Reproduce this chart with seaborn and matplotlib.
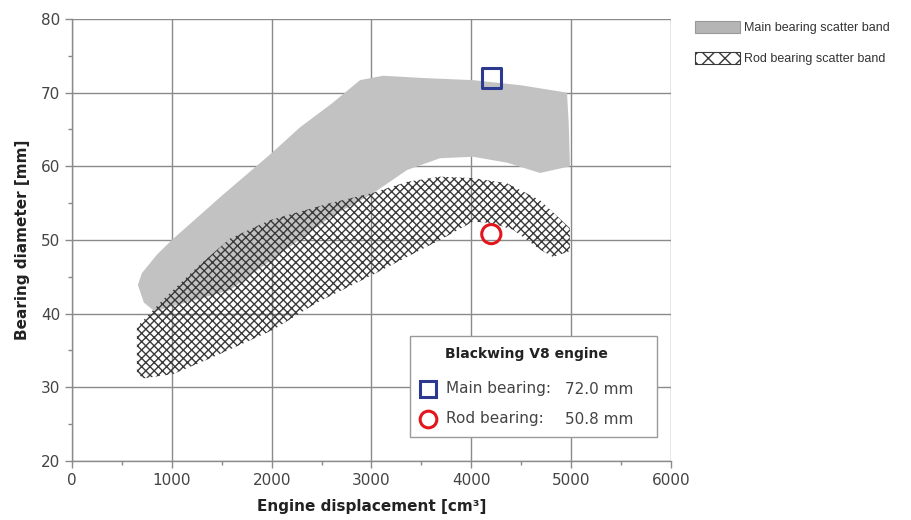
import matplotlib
matplotlib.use("Agg")
import matplotlib.pyplot as plt
from matplotlib.patches import Patch, Rectangle
from matplotlib.ticker import MultipleLocator
import seaborn as sns
import pandas as pd

# Main bearing scatter band outline (displacement cm3, diameter mm)
main_x = [660, 700, 850, 1000, 1500, 2000, 2284, 2600, 2885, 3115, 3500, 4017, 4500, 4958, 4975, 4988,
          4688, 4357, 4017, 3686, 3356, 3000, 2600, 2184, 1583, 982, 830, 720]
main_y = [43.9, 45.5, 48.0, 50.0, 56.0, 61.8, 65.3, 68.5, 71.7, 72.3, 72.0, 71.7, 71.0, 70.0, 66.0, 60.0,
          59.1, 60.5, 61.3, 61.1, 59.5, 56.2, 53.2, 49.1, 43.2, 40.9, 40.3, 41.5]

# Rod bearing scatter band outline
rod_x = [650, 912, 1252, 1583, 1983, 2584, 3015, 3356, 3686, 4017, 4357, 4688, 4988,
         4988, 4818, 4688, 4418, 4200, 4017, 3686, 3356, 3015, 2454, 2014, 1412, 1012, 711, 650]
rod_y = [38.2, 41.9, 46.3, 50.2, 52.7, 55.0, 56.4, 57.9, 58.6, 58.4, 57.7, 55.4, 51.6,
         48.5, 47.7, 48.7, 51.4, 52.3, 52.5, 50.0, 47.7, 45.3, 41.5, 37.8, 34.1, 31.8, 31.2, 32.0]

# Blackwing V8 engine
engine_disp = [4200, 4200]
engine_diam = [72.0, 50.8]
engine_part = ["Main bearing", "Rod bearing"]
engine_name = ["Main bearing:", "Rod bearing:"]
engine_value = ["72.0 mm", "50.8 mm"]

x_ticks = [0, 1000, 2000, 3000, 4000, 5000, 6000]
y_ticks = [20, 30, 40, 50, 60, 70, 80]

sns.set_theme(style="white")
plt.rcParams['font.family'] = ['DejaVu Sans']
plt.rcParams['hatch.color'] = '#3a3a3a'
plt.rcParams['hatch.linewidth'] = 1.0

fig = plt.figure(figsize=(9.11, 5.20), dpi=100)
ax = fig.add_axes([72/911, 1 - 461/520, (671 - 72)/911, (461 - 19)/520])

ax.fill(main_x, main_y, facecolor="#c2c2c2", edgecolor="none", zorder=1)
ax.fill(rod_x, rod_y, facecolor="none", edgecolor="#3a3a3a", linewidth=0, hatch="xxxx", zorder=2)

df = pd.DataFrame({"disp": engine_disp, "diam": engine_diam, "part": engine_part})
sns.scatterplot(data=df[df.part == "Main bearing"], x="disp", y="diam", marker="s", s=190,
                facecolor="none", edgecolor="#2b3990", linewidth=2.2, ax=ax, zorder=5, legend=False)
sns.scatterplot(data=df[df.part == "Rod bearing"], x="disp", y="diam", marker="o", s=190,
                facecolor="none", edgecolor="#e3161b", linewidth=2.2, ax=ax, zorder=5, legend=False)

ax.set_xlim(0, 6000)
ax.set_ylim(20, 80)
ax.set_xticks(x_ticks)
ax.set_yticks(y_ticks)
ax.xaxis.set_minor_locator(MultipleLocator(500))
ax.yaxis.set_minor_locator(MultipleLocator(5))
ax.grid(True, which="major", color="#8a8a8a", linewidth=1.0, zorder=0)
ax.set_axisbelow(True)
for side in ["top", "right"]:
    ax.spines[side].set_visible(False)
for side in ["left", "bottom"]:
    ax.spines[side].set_color("#8a8a8a")
    ax.spines[side].set_linewidth(1.0)
ax.tick_params(axis="both", which="major", length=5, width=1, color="#8a8a8a",
               labelsize=11, labelcolor="#444444", bottom=True, left=True)
ax.tick_params(axis="both", which="minor", length=3, width=1, color="#8a8a8a", bottom=True, left=True)

ax.set_xlabel("Engine displacement [cm³]", fontsize=11, fontweight="bold", color="#222222", labelpad=8)
ax.set_ylabel("Bearing diameter [mm]", fontsize=11, fontweight="bold", color="#222222", labelpad=8)

# Inset engine info box (axes coordinates)
def axx(px):
    return (px - 72) / 599.0

def axy(py):
    return (461 - py) / 442.0

box = Rectangle((axx(410), axy(437)), axx(657) - axx(410), axy(336) - axy(437),
                transform=ax.transAxes, facecolor="white", edgecolor="#9a9a9a", linewidth=1.0, zorder=6)
ax.add_patch(box)
ax.text(axx(526), axy(354), "Blackwing V8 engine", transform=ax.transAxes, ha="center", va="center",
        fontsize=10, fontweight="bold", color="#222222", zorder=7)
row_y = [389, 419]
row_marker = ["s", "o"]
row_color = ["#2b3990", "#e3161b"]
for name, val, py, mk, col in zip(engine_name, engine_value, row_y, row_marker, row_color):
    ax.plot([axx(428)], [axy(py)], transform=ax.transAxes, marker=mk, markersize=12,
            markerfacecolor="none", markeredgecolor=col, markeredgewidth=2.2, linestyle="none",
            zorder=7, clip_on=False)
    ax.text(axx(446), axy(py), name, transform=ax.transAxes, ha="left", va="center",
            fontsize=11, color="#444444", zorder=7)
    ax.text(axx(565), axy(py), val, transform=ax.transAxes, ha="left", va="center",
            fontsize=11, color="#444444", zorder=7)

# Band legend outside
band_handles = [
    Patch(facecolor="#b5b5b5", edgecolor="#999999", linewidth=0.8),
    Patch(facecolor="white", edgecolor="#3a3a3a", hatch="xx", linewidth=0.8),
]
fig.legend(band_handles, ["Main bearing scatter band", "Rod bearing scatter band"],
           loc="upper left", bbox_to_anchor=(684/911, 1 - 10/520), frameon=False,
           prop={"family": ["Liberation Sans", "DejaVu Sans"], "size": 9},
           handlelength=3.6, handleheight=1.1, handletextpad=0.3, labelspacing=1.4,
           labelcolor="#333333")

fig.savefig("out.png", dpi=100)
